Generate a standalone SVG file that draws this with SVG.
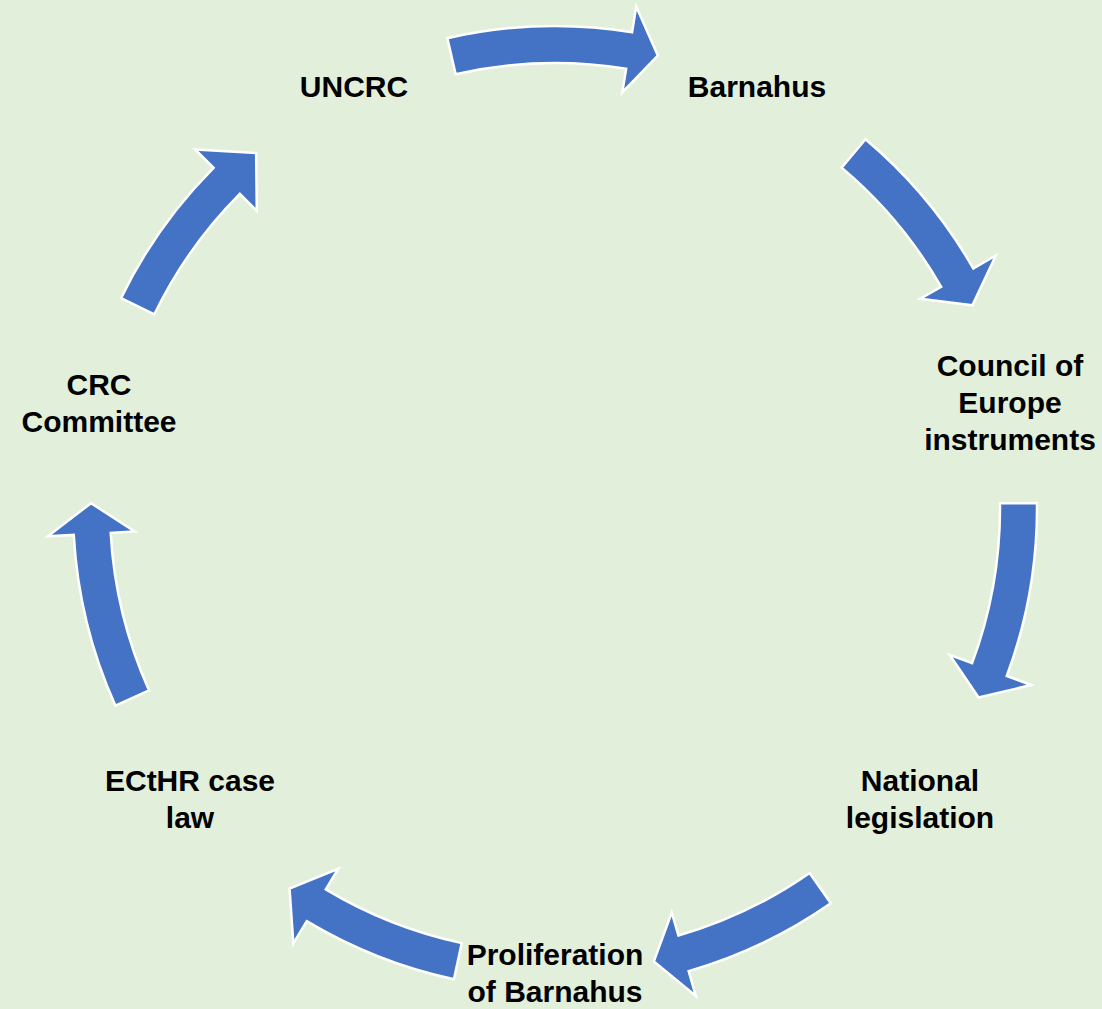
<svg xmlns="http://www.w3.org/2000/svg" width="1102" height="1009" viewBox="0 0 1102 1009">
  <style>
    .bg { fill: #E2EFDA; }
    .arrow { fill: #4472C4; stroke: #FFFFFF; stroke-width: 2.5; stroke-linejoin: miter; }
    .label { font-family: "Liberation Sans", Arial, sans-serif; font-weight: bold; font-size: 30px; fill: #000000; text-anchor: middle; }
  </style>
  <rect class="bg" x="0" y="0" width="1102" height="1009"/>
  <g id="connectors">
    <path id="arrow-uncrc-barnahus" class="arrow" d="M 447.39 38.17 A 482 482 0 0 1 632.06 32.20 L 636.22 6.53 L 657.80 55.53 L 622.31 92.41 L 626.15 68.72 A 445 445 0 0 0 455.65 74.23 Z"/>
    <path id="arrow-barnahus-council" class="arrow" d="M 865.47 139.31 A 482 482 0 0 1 973.27 268.46 L 995.83 255.53 L 972.40 305.32 L 920.34 298.77 L 941.16 286.84 A 445 445 0 0 0 841.64 167.61 Z"/>
    <path id="arrow-council-national" class="arrow" d="M 1036.98 502.95 A 482 482 0 0 1 1006.78 676.02 L 1031.15 685.08 L 978.56 697.47 L 949.60 654.75 L 972.10 663.12 A 445 445 0 0 0 999.98 503.34 Z"/>
    <path id="arrow-national-proliferation" class="arrow" d="M 830.78 903.31 A 482 482 0 0 1 688.67 971.10 L 695.88 996.08 L 653.85 961.36 L 671.75 912.49 L 678.41 935.55 A 445 445 0 0 0 809.61 872.97 Z"/>
    <path id="arrow-proliferation-ecthr" class="arrow" d="M 453.96 979.29 A 482 482 0 0 1 306.75 921.16 L 293.36 943.44 L 289.52 888.55 L 338.17 868.87 L 325.81 889.44 A 445 445 0 0 0 461.72 943.12 Z"/>
    <path id="arrow-ecthr-crc" class="arrow" d="M 115.35 705.59 A 482 482 0 0 1 73.75 534.91 L 47.79 536.36 L 91.02 503.14 L 134.66 531.50 L 110.69 532.84 A 445 445 0 0 0 149.10 690.42 Z"/>
    <path id="arrow-crc-uncrc" class="arrow" d="M 121.05 298.22 A 482 482 0 0 1 213.58 167.77 L 195.16 149.42 L 256.12 153.08 L 256.79 210.83 L 239.79 193.89 A 445 445 0 0 0 154.36 314.32 Z"/>
  </g>
  <g id="node-uncrc">
    <text class="label" x="354" y="97">UNCRC</text>
  </g>
  <g id="node-barnahus">
    <text class="label" x="757" y="97">Barnahus</text>
  </g>
  <g id="node-council-of-europe">
    <text class="label" x="1010" y="376">Council of</text>
    <text class="label" x="1010" y="413">Europe</text>
    <text class="label" x="1010" y="450">instruments</text>
  </g>
  <g id="node-national-legislation">
    <text class="label" x="920" y="791">National</text>
    <text class="label" x="920" y="828">legislation</text>
  </g>
  <g id="node-proliferation">
    <text class="label" x="555" y="965">Proliferation</text>
    <text class="label" x="555" y="1002">of Barnahus</text>
  </g>
  <g id="node-ecthr">
    <text class="label" x="190" y="791">ECtHR case</text>
    <text class="label" x="190" y="828">law</text>
  </g>
  <g id="node-crc-committee">
    <text class="label" x="99" y="395">CRC</text>
    <text class="label" x="99" y="432">Committee</text>
  </g>
</svg>
